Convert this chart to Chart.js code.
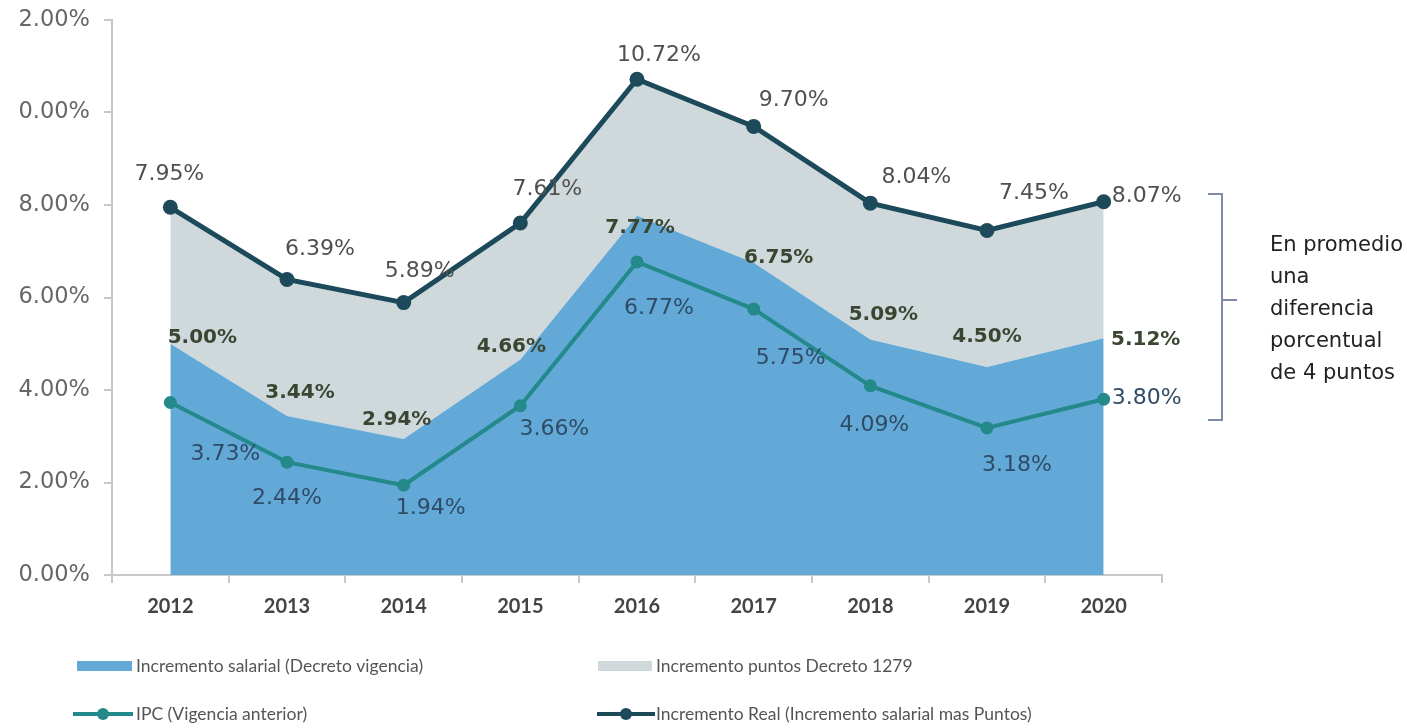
<!DOCTYPE html>
<html><head><meta charset="utf-8">
<script src="https://cdn.jsdelivr.net/npm/chart.js@4.4.0/dist/chart.umd.min.js"></script>
<style>html,body{margin:0;padding:0;background:#fff;overflow:hidden}</style>
</head><body>
<canvas id="c" width="1407" height="728"></canvas>
<script>
const years = ['2012','2013','2014','2015','2016','2017','2018','2019','2020'];
const salarial = [5.00, 3.44, 2.94, 4.66, 7.77, 6.75, 5.09, 4.50, 5.12];
const ipc = [3.73, 2.44, 1.94, 3.66, 6.77, 5.75, 4.09, 3.18, 3.80];
const real = [7.95, 6.39, 5.89, 7.61, 10.72, 9.70, 8.04, 7.45, 8.07];
const yTickLabels = ['0.00%','2.00%','4.00%','6.00%','8.00%','0.00%','2.00%'];
const seriesNames = ['Incremento salarial (Decreto vigencia)','Incremento puntos Decreto 1279','IPC (Vigencia anterior)','Incremento Real (Incremento salarial mas Puntos)'];
const noteLines = ['En promedio','una','diferencia','porcentual','de 4 puntos'];

const C_BLUE = '#63a9d7', C_GRAY = '#cfd9dc', C_IPC = '#23898a', C_REAL = '#1d4a5a';

// label placement (pixel offsets from each point), style only
const labelStyles = {
  0: {font:'bold 20px "DejaVu Sans"', color:'#3b4632',
      off:[[32,-6],[13,-23],[-7,-19],[-9,-13],[3,12],[25,-5],[13,-25],[0,-30],[42,2]]},
  2: {font:'22px "DejaVu Sans"', color:'#2f4b66',
      off:[[55,52],[0,36],[27,23],[34,24],[22,46],[37,49],[4,39],[30,37],[43,-1]]},
  3: {font:'22px "DejaVu Sans"', color:'#505050',
      off:[[-1,-33],[33,-30],[16,-31],[27,-34],[22,-24],[40,-26],[46,-26],[47,-37],[43,-5]]}
};

const labelPlugin = {
  id:'valueLabels',
  afterDatasetsDraw(chart){
    const ctx = chart.ctx;
    ctx.save();
    ctx.textAlign='center'; ctx.textBaseline='middle';
    Object.keys(labelStyles).forEach(k=>{
      const st = labelStyles[k];
      const meta = chart.getDatasetMeta(+k);
      const data = chart.data.datasets[+k].data;
      ctx.font = st.font; ctx.fillStyle = st.color;
      meta.data.forEach((pt,i)=>{
        ctx.fillText(data[i].toFixed(2)+'%', pt.x+st.off[i][0], pt.y+st.off[i][1]);
      });
    });
    ctx.restore();
  }
};

const extrasPlugin = {
  id:'extras',
  afterDraw(chart){
    const ctx = chart.ctx;
    ctx.save();
    // legend
    const items = [
      {type:'area', color:C_BLUE, x0:77, x1:132, tx:136, y:666, name:seriesNames[0]},
      {type:'area', color:C_GRAY, x0:598, x1:652, tx:656, y:666, name:seriesNames[1]},
      {type:'line', color:C_IPC, x0:73, x1:133, tx:136, y:714, name:seriesNames[2]},
      {type:'line', color:C_REAL, x0:597, x1:655, tx:656, y:714, name:seriesNames[3]}
    ];
    items.forEach(it=>{
      if(it.type==='area'){
        ctx.fillStyle=it.color; ctx.fillRect(it.x0, it.y-5, it.x1-it.x0, 10);
      } else {
        ctx.strokeStyle=it.color; ctx.lineWidth=4;
        ctx.beginPath(); ctx.moveTo(it.x0,it.y); ctx.lineTo(it.x1,it.y); ctx.stroke();
        ctx.fillStyle=it.color; ctx.beginPath(); ctx.arc((it.x0+it.x1)/2, it.y, 6, 0, Math.PI*2); ctx.fill();
      }
      ctx.fillStyle='#555'; ctx.font='17.5px Lato'; ctx.textAlign='left'; ctx.textBaseline='middle';
      ctx.fillText(it.name, it.tx, it.y);
    });
    // bracket
    ctx.strokeStyle='#7f8aa8'; ctx.lineWidth=2;
    ctx.beginPath();
    ctx.moveTo(1208,194); ctx.lineTo(1222,194); ctx.lineTo(1222,420); ctx.lineTo(1208,420);
    ctx.moveTo(1222,300); ctx.lineTo(1237,300);
    ctx.stroke();
    // note text
    ctx.fillStyle='#222'; ctx.font='21px "DejaVu Sans"'; ctx.textAlign='left'; ctx.textBaseline='middle';
    noteLines.forEach((t,i)=>ctx.fillText(t, 1270, 246+i*32));
    ctx.restore();
  }
};

new Chart(document.getElementById('c'), {
  type:'line',
  data:{
    labels: years,
    datasets:[
      {label:seriesNames[0], data:salarial, fill:'origin', backgroundColor:C_BLUE, borderWidth:0, pointRadius:0, order:3, tension:0},
      {label:seriesNames[1], data:real, fill:'-1', backgroundColor:C_GRAY, borderWidth:0, pointRadius:0, order:4, tension:0},
      {label:seriesNames[2], data:ipc, fill:false, borderColor:C_IPC, backgroundColor:C_IPC, borderWidth:4, pointRadius:6.5, pointBackgroundColor:C_IPC, pointBorderWidth:0, order:1, tension:0},
      {label:seriesNames[3], data:real, fill:false, borderColor:C_REAL, backgroundColor:C_REAL, borderWidth:5, pointRadius:7.5, pointBackgroundColor:C_REAL, pointBorderWidth:0, order:2, tension:0}
    ]
  },
  options:{
    responsive:false, animation:false, devicePixelRatio:1,
    layout:{padding:{top:20,right:245,bottom:100,left:0}},
    plugins:{legend:{display:false}, tooltip:{enabled:false}},
    scales:{
      x:{
        offset:true,
        grid:{offset:true, drawOnChartArea:false, drawTicks:true, tickLength:8, color:'#c8c8c8', lineWidth:2},
        border:{color:'#c8c8c8', width:2},
        ticks:{font:{family:'Lato', weight:'bold', size:20}, color:'#444', padding:12},
        afterFit(s){ s.height = 53; s.paddingLeft = 0; s.paddingRight = 0; }
      },
      y:{
        min:0, max:12,
        ticks:{stepSize:2, callback:(v)=>yTickLabels[Math.round(v/2)], font:{family:'DejaVu Sans', size:22.5}, color:'#666', padding:14},
        grid:{drawOnChartArea:false, drawTicks:true, tickLength:8, color:'#c8c8c8', lineWidth:2},
        border:{color:'#c8c8c8', width:2},
        afterFit(s){ s.width = 112; s.paddingTop = 0; s.paddingBottom = 0; }
      }
    }
  },
  plugins:[labelPlugin, extrasPlugin]
});
</script>
</body></html>
